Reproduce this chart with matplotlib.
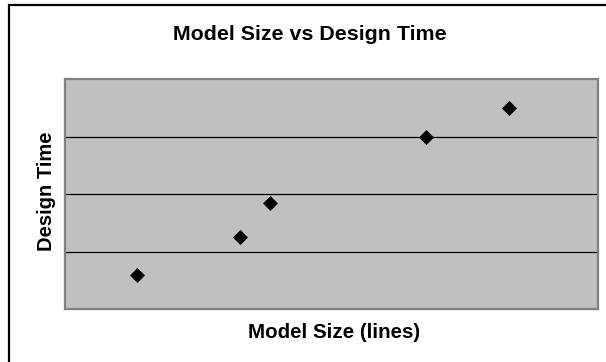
import matplotlib
matplotlib.use("Agg")
import matplotlib.pyplot as plt
from matplotlib.patches import Rectangle

plt.rcParams['font.family'] = ['Liberation Sans', 'DejaVu Sans']

# Model size (relative units) and design time (gridline units)
model_size = [1.36, 3.29, 3.85, 6.77, 8.34]
design_time = [0.60, 1.25, 1.85, 3.00, 3.50]
x_range = (0, 10)
y_range = (0, 4)
y_grid = [1, 2, 3]

fig = plt.figure(figsize=(6.06, 3.62), dpi=100)
W, H = 606, 362

# Chart frame (left and top edges visible)
fig.patches.append(Rectangle((9 / W, -0.1), 1.2, 1 - 5 / H + 0.1,
                             transform=fig.transFigure, fill=False,
                             edgecolor='black', linewidth=1.6, zorder=0))

left, right, top, bottom = 65, 597.5, 79, 309
ax = fig.add_axes([left / W, 1 - bottom / H, (right - left) / W, (bottom - top) / H])
ax.set_facecolor('#C0C0C0')
ax.set_xlim(*x_range)
ax.set_ylim(*y_range)

for y in y_grid:
    ax.axhline(y, color='#000000', linewidth=0.9, zorder=1)

ax.plot(model_size, design_time, linestyle='none', marker='D', markersize=7.5,
        markerfacecolor='black', markeredgecolor='black', markeredgewidth=0.5,
        zorder=3)

ax.set_xticks([])
ax.set_yticks([])
for s in ax.spines.values():
    s.set_color('#808080')
    s.set_linewidth(1.6)

fig.text(310 / W, 1 - 40.5 / H, 'Model Size vs Design Time', ha='center', va='baseline',
         fontsize=15.4, fontweight='bold')
fig.text(334 / W, 1 - 338 / H, 'Model Size (lines)', ha='center', va='baseline',
         fontsize=14.8, fontweight='bold')
fig.text(46.5 / W, 1 - 191 / H, 'Design Time', ha='center', va='center',
         rotation=90, fontsize=14.5, fontweight='bold')

fig.savefig('out.png', dpi=100)
